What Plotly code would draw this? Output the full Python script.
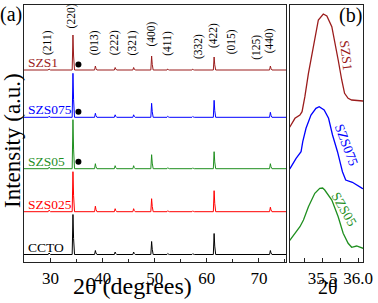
import plotly.graph_objects as go

# ---------------- data ----------------
samples = ["SZS1", "SZS075", "SZS05", "SZS025", "CCTO"]
colors = ["#9b1c1c", "#0000ff", "#1f8f1f", "#ff0000", "#000000"]
offsets = [192, 144.7, 93.3, 50.3, 7.5]          # stacking offsets (a.u.)

peak_2theta = [29.7, 34.3, 38.6, 42.4, 45.95, 49.4, 52.5, 57.3, 61.4, 72.2]
intensity = {
    "SZS1":   [1.0, 35, 4.0, 2.5, 2.5, 14, 1.0, 0.8, 13, 4.0],
    "SZS075": [1.0, 44, 4.0, 2.5, 2.5, 14, 1.0, 0.8, 17, 5.0],
    "SZS05":  [1.5, 49, 5.0, 3.0, 3.0, 14, 1.0, 0.8, 17, 5.0],
    "SZS025": [1.5, 40, 5.5, 3.0, 3.0, 13, 1.0, 0.8, 21, 4.5],
    "CCTO":   [1.5, 40, 4.0, 2.5, 2.5, 13, 1.0, 0.8, 21, 4.0],
}

hkl_labels = ["(211)", "(220)", "(013)", "(222)", "(321)", "(400)", "(411)",
              "(332)", "(422)", "(015)", "(125)", "(440)"]
hkl_2theta = [29.5, 34.2, 38.6, 42.4, 45.9, 49.4, 52.5, 58.5, 61.4, 64.9, 69.6, 72.2]

cuo_2theta = 35.35
cuo_samples = ["SZS1", "SZS075", "SZS05"]
cuo_height = [5.5, 5.5, 7.0]

# zoomed region (b)
zoom_samples = ["SZS1", "SZS075", "SZS05"]
zoom_x = {
    "SZS1": [35.00, 35.04, 35.11, 35.18, 35.21, 35.25, 35.30, 35.35, 35.39, 35.44,
             35.51, 35.56, 35.63, 35.68, 35.72, 35.77, 35.81, 35.86, 35.91, 36.07, 36.10],
    "SZS075": [35.00, 35.042, 35.126, 35.196, 35.22, 35.266, 35.336, 35.406, 35.452, 35.522,
               35.584, 35.64, 35.71, 35.78, 35.826, 35.92, 36.06, 36.10],
    "SZS05": [35.00, 35.04, 35.18, 35.23, 35.30, 35.39, 35.46, 35.50, 35.53, 35.63,
              35.72, 35.79, 35.86, 35.91, 35.98, 36.02, 36.07, 36.10],
}
zoom_y = {
    "SZS1": [132, 135.3, 143.7, 147, 150.3, 165.3, 188.7, 208.7, 225.3, 242,
             248, 246, 235.3, 218.7, 202, 182, 168.7, 163.7, 162, 161, 161],
    "SZS075": [90, 93.7, 103.7, 110.3, 120.3, 133.7, 147, 153.7, 155.3, 152,
               143.7, 127, 110.3, 90.3, 82, 79.7, 73.7, 72.5],
    "SZS05": [19, 22, 35.3, 42, 55.3, 68.7, 73.7, 74, 72, 62,
              45.3, 28.7, 18.7, 14.7, 16, 14.7, 13.7, 13.5],
}

# ---------------- layout constants ----------------
W, H = 378, 303
FONT = "Liberation Serif"
xa_dom = [24 / W, 286 / W]
xb_dom = [290 / W, 363 / W]
y_dom = [(H - 262) / H, (H - 5) / H]
YR = [0, 257]

fig = go.Figure()

# panel (a) patterns
for s, c, off in zip(samples[::-1], colors[::-1], offsets[::-1]):
    xs, ys = [24.0], [off]
    for p, h in zip(peak_2theta, intensity[s]):
        xs += [p - 0.15, p, p + 0.12, p + 0.3]
        ys += [off, off + h, off + 0.4 * h, off]
    xs.append(76.0)
    ys.append(off)
    fig.add_trace(go.Scatter(x=xs, y=ys, mode="lines", line=dict(color=c, width=1),
                             xaxis="x", yaxis="y", showlegend=False, hoverinfo="skip"))

# CuO markers
cuo_y = [offsets[samples.index(s)] + h for s, h in zip(cuo_samples, cuo_height)]
fig.add_trace(go.Scatter(x=[cuo_2theta] * len(cuo_y), y=cuo_y, mode="markers",
                         marker=dict(color="black", size=6), xaxis="x", yaxis="y",
                         showlegend=False, hoverinfo="skip"))

# panel (b) curves
for s in zoom_samples:
    c = colors[samples.index(s)]
    fig.add_trace(go.Scatter(x=zoom_x[s], y=zoom_y[s], mode="lines",
                             line=dict(color=c, width=1.3), xaxis="x2", yaxis="y2",
                             showlegend=False, hoverinfo="skip"))

ann = []
# hkl labels
hkl_ypx = [42, 16, 43, 43, 43, 34, 43, 47, 36, 42, 47, 41]
for lab, xv, ypx in zip(hkl_labels, hkl_2theta, hkl_ypx):
    ann.append(dict(x=xv, y=262 - ypx, xref="x", yref="y", text=lab, textangle=-90,
                    showarrow=False, font=dict(family=FONT, size=11.5, color="black"),
                    xanchor="center", yanchor="middle"))
# sample labels (a)
for s, c, off in zip(samples, colors, offsets):
    ann.append(dict(x=26 / W, y=off + 7.5, xref="paper", yref="y", text=s,
                    showarrow=False, font=dict(family=FONT, size=13.5, color=c),
                    xanchor="left", yanchor="middle"))
# sample labels (b)
lab_b = {"SZS1": (345.5, 55, 83), "SZS075": (347, 145, 69), "SZS05": (344.5, 209, 60)}
for s in zoom_samples:
    px, py, ang = lab_b[s]
    ann.append(dict(x=px / W, y=1 - py / H, xref="paper", yref="paper", text=s,
                    textangle=ang, showarrow=False,
                    font=dict(family=FONT, size=13.5, color=colors[samples.index(s)]),
                    xanchor="center", yanchor="middle"))
# panel labels and axis titles
ann += [
    dict(x=11 / W, y=1 - 14 / H, xref="paper", yref="paper", text="(a)", showarrow=False,
         font=dict(family=FONT, size=20, color="black"), xanchor="center", yanchor="middle"),
    dict(x=350 / W, y=1 - 16 / H, xref="paper", yref="paper", text="(b)", showarrow=False,
         font=dict(family=FONT, size=20, color="black"), xanchor="center", yanchor="middle"),
    dict(x=132.5 / W, y=1 - 286 / H, xref="paper", yref="paper", text="2θ (degrees)",
         showarrow=False, font=dict(family=FONT, size=24, color="black"),
         xanchor="center", yanchor="middle"),
    dict(x=327.5 / W, y=1 - 287 / H, xref="paper", yref="paper", text="2θ",
         showarrow=False, font=dict(family=FONT, size=20, color="black"),
         xanchor="center", yanchor="middle"),
    dict(x=12 / W, y=1 - 141 / H, xref="paper", yref="paper", text="Intensity (a.u.)",
         textangle=-90, showarrow=False, font=dict(family=FONT, size=23, color="black"),
         xanchor="center", yanchor="middle"),
]

frame = dict(showline=True, linecolor="#222", linewidth=1.3, mirror=True, showgrid=False,
             zeroline=False, automargin=False)
fig.update_layout(
    template="none",
    font=dict(family=FONT, color="black"),
    width=W, height=H, margin=dict(l=0, r=0, t=0, b=0, autoexpand=False),
    paper_bgcolor="white", plot_bgcolor="white",
    xaxis=dict(domain=xa_dom, range=[24.9, 75.2], anchor="y", tick0=30, dtick=10,
               ticks="inside", ticklen=4, tickcolor="#222",
               minor=dict(dtick=5, tick0=30, ticks="inside", ticklen=3, tickcolor="#222"),
               tickfont=dict(family=FONT, size=17, color="black"), **frame),
    yaxis=dict(domain=y_dom, range=YR, anchor="x", showticklabels=False, ticks="", **frame),
    xaxis2=dict(domain=xb_dom, range=[35.04, 36.07], anchor="y2", tick0=35.5, dtick=0.5,
                tickformat=".1f", ticks="inside", ticklen=4, tickcolor="#222",
                minor=dict(dtick=0.25, tick0=35.25, ticks="inside", ticklen=4, tickcolor="#222"),
                tickfont=dict(family=FONT, size=17, color="black"), **frame),
    yaxis2=dict(domain=y_dom, range=YR, anchor="x2", showticklabels=False, ticks="", **frame),
    annotations=ann,
)

fig.write_html("out.html", config={"displayModeBar": False, "staticPlot": True},
               post_script="document.body.style.margin='0';document.body.style.overflow='hidden';")
